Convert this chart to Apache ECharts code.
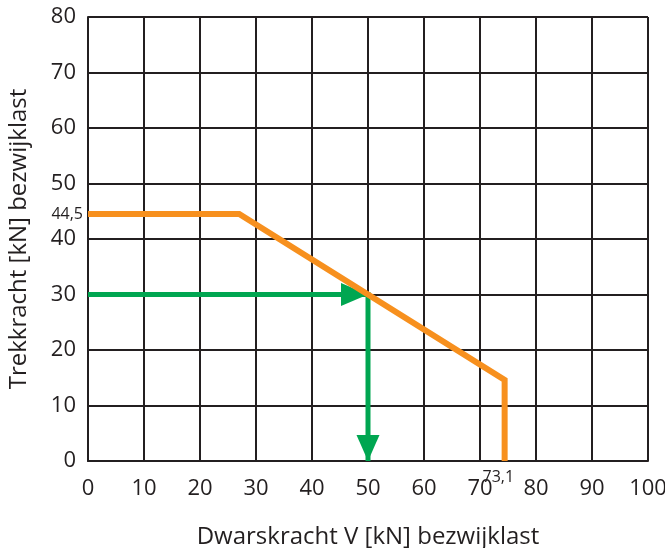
<!DOCTYPE html>
<html>
<head>
<meta charset="utf-8">
<script src="https://cdn.jsdelivr.net/npm/echarts@6/dist/echarts.min.js"></script>
<style>
html,body{margin:0;padding:0;background:#fff;}
#chart{width:665px;height:548px;}
</style>
</head>
<body>
<div id="chart"></div>
<script>
// ---- data ----
const xRange = [0, 100];
const yRange = [0, 80];
const tickStep = 10;
const capacityCurve = [[0, 44.5], [27, 44.5], [74.4, 14.6], [74.4, 0]];
const examplePath = [[0, 30], [50, 30], [50, 0]];
const arrowTips = [[50, 30, 'right'], [50, 0, 'down']];
const annotations = [['44,5', 0, 44.5, 'left'], ['73,1', 73.1, 0, 'below']];
const xTitle = 'Dwarskracht V [kN] bezwijklast';
const yTitle = 'Trekkracht [kN] bezwijklast';

const INK = '#231f20';
const ORANGE = '#f7901e';
const GREEN = '#00a651';
const FONT = 'Open Sans';

const chart = echarts.init(document.getElementById('chart'));
chart.setOption({
  animation: false,
  grid: { left: 88, right: 17, top: 17, bottom: 87, containLabel: false, outerBoundsMode: 'none' },
  xAxis: {
    type: 'value', min: xRange[0], max: xRange[1], interval: tickStep,
    axisLine: { show: true, lineStyle: { color: INK, width: 2 } },
    axisTick: { show: false },
    splitLine: { show: true, lineStyle: { color: INK, width: 2 } },
    axisLabel: { color: INK, fontSize: 22, fontFamily: FONT, margin: 17 },
    name: xTitle, nameLocation: 'middle', nameGap: 64,
    nameTextStyle: { color: INK, fontSize: 24, fontFamily: FONT }
  },
  yAxis: {
    type: 'value', min: yRange[0], max: yRange[1], interval: tickStep,
    axisLine: { show: true, lineStyle: { color: INK, width: 2 } },
    axisTick: { show: false },
    splitLine: { show: true, lineStyle: { color: INK, width: 2 } },
    axisLabel: { color: INK, fontSize: 22, fontFamily: FONT, margin: 12 },
    name: yTitle, nameLocation: 'middle', nameGap: 57,
    nameTextStyle: { color: INK, fontSize: 24, fontFamily: FONT }
  },
  series: [
    {
      type: 'line', data: examplePath, symbol: 'none', z: 3,
      lineStyle: { color: GREEN, width: 5, join: 'miter' }
    },
    {
      type: 'custom', z: 4, data: arrowTips,
      renderItem: function (params, api) {
        const p = api.coord([api.value(0), api.value(1)]);
        const dir = arrowTips[params.dataIndex][2];
        let pts;
        if (dir === 'right') {
          pts = [[p[0], p[1]], [p[0] - 27, p[1] - 11.5], [p[0] - 27, p[1] + 11.5]];
        } else {
          pts = [[p[0], p[1]], [p[0] - 11.5, p[1] - 26], [p[0] + 11.5, p[1] - 26]];
        }
        return { type: 'polygon', shape: { points: pts }, style: { fill: GREEN } };
      }
    },
    {
      type: 'line', data: capacityCurve, symbol: 'none', z: 5,
      lineStyle: { color: ORANGE, width: 6, join: 'miter', cap: 'butt' }
    },
    {
      type: 'custom', z: 6, data: annotations.map(a => [a[1], a[2]]),
      renderItem: function (params, api) {
        const a = annotations[params.dataIndex];
        const p = api.coord([api.value(0), api.value(1)]);
        if (a[3] === 'left') {
          return { type: 'text', x: p[0] - 5, y: p[1],
            style: { text: a[0], fill: INK, font: '16px "' + FONT + '"', align: 'right', verticalAlign: 'middle' } };
        }
        return { type: 'text', x: p[0] + 1, y: p[1] + 16,
          style: { text: a[0], fill: INK, font: '16px "' + FONT + '"', align: 'center', verticalAlign: 'middle' } };
      }
    }
  ]
});
</script>
</body>
</html>
